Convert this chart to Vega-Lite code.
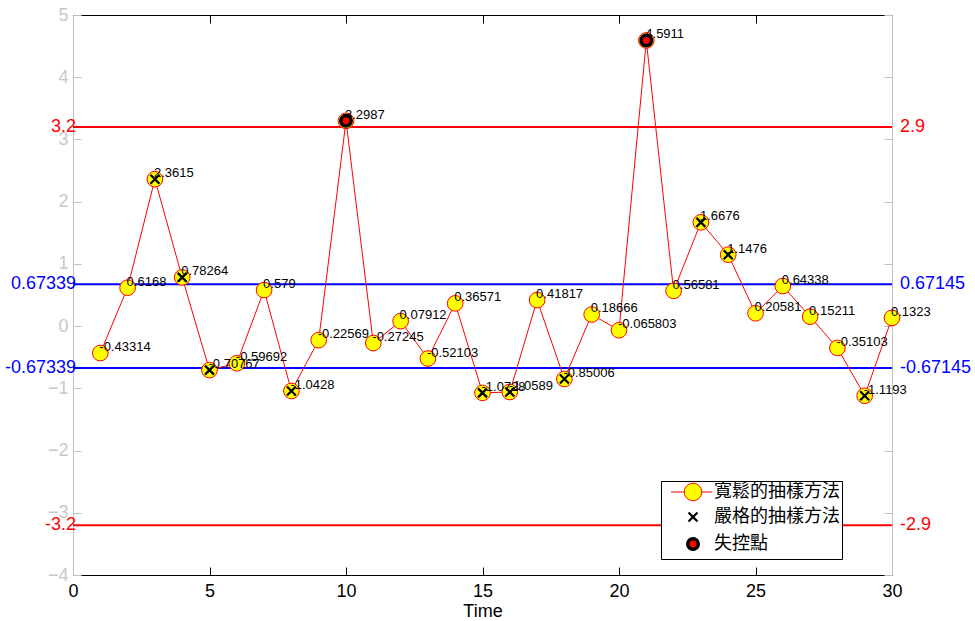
{
  "$schema": "https://vega.github.io/schema/vega-lite/v6.json",
  "width": 819,
  "height": 560,
  "autosize": "none",
  "padding": {"left": 73, "top": 15, "right": 83, "bottom": 46},
  "background": "white",
  "config": {"view": {"stroke": null}, "font": "Liberation Sans"},
  "datasets": {
    "obs": [
      {"t": 1, "v": -0.43314, "strict": false, "ooc": false},
      {"t": 2, "v": 0.6168, "strict": false, "ooc": false},
      {"t": 3, "v": 2.3615, "strict": true, "ooc": false},
      {"t": 4, "v": 0.78264, "strict": true, "ooc": false},
      {"t": 5, "v": -0.70767, "strict": true, "ooc": false},
      {"t": 6, "v": -0.59692, "strict": false, "ooc": false},
      {"t": 7, "v": 0.579, "strict": false, "ooc": false},
      {"t": 8, "v": -1.0428, "strict": true, "ooc": false},
      {"t": 9, "v": -0.22569, "strict": false, "ooc": false},
      {"t": 10, "v": 3.2987, "strict": false, "ooc": true},
      {"t": 11, "v": -0.27245, "strict": false, "ooc": false},
      {"t": 12, "v": 0.07912, "strict": false, "ooc": false},
      {"t": 13, "v": -0.52103, "strict": false, "ooc": false},
      {"t": 14, "v": 0.36571, "strict": false, "ooc": false},
      {"t": 15, "v": -1.0728, "strict": true, "ooc": false},
      {"t": 16, "v": -1.0589, "strict": true, "ooc": false},
      {"t": 17, "v": 0.41817, "strict": false, "ooc": false},
      {"t": 18, "v": -0.85006, "strict": true, "ooc": false},
      {"t": 19, "v": 0.18666, "strict": false, "ooc": false},
      {"t": 20, "v": -0.065803, "strict": false, "ooc": false},
      {"t": 21, "v": 4.5911, "strict": false, "ooc": true},
      {"t": 22, "v": 0.56581, "strict": false, "ooc": false},
      {"t": 23, "v": 1.6676, "strict": true, "ooc": false},
      {"t": 24, "v": 1.1476, "strict": true, "ooc": false},
      {"t": 25, "v": 0.20581, "strict": false, "ooc": false},
      {"t": 26, "v": 0.64338, "strict": false, "ooc": false},
      {"t": 27, "v": 0.15211, "strict": false, "ooc": false},
      {"t": 28, "v": -0.35103, "strict": false, "ooc": false},
      {"t": 29, "v": -1.1193, "strict": true, "ooc": false},
      {"t": 30, "v": 0.1323, "strict": false, "ooc": false}
    ],
    "limits": [
      {"v": 3.2, "left": "3.2", "right": "2.9", "kind": "control"},
      {"v": 0.67339, "left": "0.67339", "right": "0.67145", "kind": "warning"},
      {"v": -0.67339, "left": "-0.67339", "right": "-0.67145", "kind": "warning"},
      {"v": -3.2, "left": "-3.2", "right": "-2.9", "kind": "control"}
    ]
  },
  "resolve": {"axis": {"x": "independent", "y": "independent"}},
  "layer": [
    {
      "data": {"name": "limits"},
      "transform": [{"filter": "datum.kind === 'control'"}],
      "mark": {"type": "rule", "color": "#ff0000", "strokeWidth": 2},
      "encoding": {
        "y": {"field": "v", "type": "quantitative", "scale": {"domain": [-4, 5], "nice": false, "zero": false}, "axis": null}
      }
    },
    {
      "data": {"name": "limits"},
      "transform": [{"filter": "datum.kind === 'warning'"}],
      "mark": {"type": "rule", "color": "#0000ff", "strokeWidth": 2},
      "encoding": {
        "y": {"field": "v", "type": "quantitative", "scale": {"domain": [-4, 5], "nice": false, "zero": false}, "axis": null}
      }
    },
    {
      "data": {"name": "obs"},
      "mark": {"type": "line", "color": "#ff0000", "strokeWidth": 1},
      "encoding": {
        "x": {"field": "t", "type": "quantitative", "scale": {"domain": [0, 30], "nice": false, "zero": false},
          "axis": {"orient": "bottom", "values": [0, 5, 10, 15, 20, 25, 30], "grid": false, "domainColor": "#000000", "tickColor": "#000000", "tickSize": -8, "labelPadding": 15, "labelFontSize": 18, "labelColor": "#000000", "labelFlush": false, "labelOverlap": false, "labelFont": "Liberation Sans", "title": "Time", "titleFont": "Liberation Sans", "titleFontSize": 18, "titleFontWeight": "normal", "titleColor": "#000000", "titlePadding": 2}},
        "y": {"field": "v", "type": "quantitative", "scale": {"domain": [-4, 5], "nice": false, "zero": false},
          "axis": {"orient": "left", "values": [-4, -3, -2, -1, 0, 1, 2, 3, 4, 5], "grid": false, "domainColor": "#c0c0c0", "tickColor": "#c0c0c0", "tickSize": -8, "labelPadding": 13, "labelFontSize": 18, "labelColor": "#c8c8c8", "labelFont": "Liberation Sans", "labelOverlap": false, "labelFlush": false, "title": null}}
      }
    },
    {
      "data": {"name": "obs"},
      "mark": {"type": "point", "shape": "circle", "size": 246, "fill": "#ffff00", "stroke": "#ff0000", "strokeWidth": 1, "filled": true, "opacity": 1},
      "encoding": {
        "x": {"field": "t", "type": "quantitative", "scale": {"domain": [0, 30], "nice": false, "zero": false},
          "axis": {"orient": "top", "values": [0, 5, 10, 15, 20, 25, 30], "grid": false, "labels": false, "domainColor": "#000000", "tickColor": "#000000", "tickSize": -8, "title": null}},
        "y": {"field": "v", "type": "quantitative", "scale": {"domain": [-4, 5], "nice": false, "zero": false},
          "axis": {"orient": "right", "values": [-4, -3, -2, -1, 0, 1, 2, 3, 4, 5], "grid": false, "labels": false, "domainColor": "#c0c0c0", "tickColor": "#c0c0c0", "tickSize": -8, "title": null}}
      }
    },
    {
      "data": {"name": "obs"},
      "mark": {"type": "text", "align": "left", "baseline": "middle", "dx": -1, "dy": -6, "fontSize": 13, "font": "Liberation Sans", "color": "#000000"},
      "encoding": {
        "x": {"field": "t", "type": "quantitative", "scale": {"domain": [0, 30], "nice": false, "zero": false}, "axis": null},
        "y": {"field": "v", "type": "quantitative", "scale": {"domain": [-4, 5], "nice": false, "zero": false}, "axis": null},
        "text": {"field": "v", "type": "nominal"}
      }
    },
    {
      "data": {"name": "obs"},
      "transform": [{"filter": "datum.strict"}],
      "mark": {"type": "point", "filled": true, "opacity": 1},
      "encoding": {
        "x": {"field": "t", "type": "quantitative", "scale": {"domain": [0, 30], "nice": false, "zero": false}, "axis": null},
        "y": {"field": "v", "type": "quantitative", "scale": {"domain": [-4, 5], "nice": false, "zero": false}, "axis": null},
        "fill": {"datum": "嚴格的抽樣方法", "type": "nominal",
          "scale": {"domain": ["寬鬆的抽樣方法", "嚴格的抽樣方法", "失控點"], "range": ["#ffff00", "#000000", "#ff0000"]},
          "legend": {
            "title": null, "orient": "none", "legendX": 588, "legendY": 466,
            "fillColor": "white", "strokeColor": "#000000", "padding": 2,
            "symbolOffset": 21, "labelOffset": 12, "rowPadding": 5,
            "labelFont": "Noto Sans CJK TC", "labelFontSize": 18, "labelColor": "#000000", "labelLimit": 300
          }},
        "shape": {"datum": "嚴格的抽樣方法", "type": "nominal",
          "scale": {"domain": ["寬鬆的抽樣方法", "嚴格的抽樣方法", "失控點"], "range": ["M-6.1,0H-2.43M2.43,0H5.3M-2.43,0A2.43,2.43 0 1,0 2.43,0A2.43,2.43 0 1,0 -2.43,0", "M-1,-1L1,1M-1,1L1,-1", "circle"]}},
        "stroke": {"datum": "嚴格的抽樣方法", "type": "nominal",
          "scale": {"domain": ["寬鬆的抽樣方法", "嚴格的抽樣方法", "失控點"], "range": ["#ff0000", "#000000", "#000000"]}},
        "size": {"datum": "嚴格的抽樣方法", "type": "ordinal",
          "scale": {"domain": ["寬鬆的抽樣方法", "嚴格的抽樣方法", "失控點"], "range": [52, 110]}},
        "strokeWidth": {"datum": "嚴格的抽樣方法", "type": "ordinal",
          "scale": {"domain": ["寬鬆的抽樣方法", "嚴格的抽樣方法", "失控點"], "range": [1, 3.5]}}
      }
    },
    {
      "data": {"name": "obs"},
      "transform": [{"filter": "datum.ooc"}],
      "mark": {"type": "point", "filled": true, "opacity": 1},
      "encoding": {
        "x": {"field": "t", "type": "quantitative", "scale": {"domain": [0, 30], "nice": false, "zero": false}, "axis": null},
        "y": {"field": "v", "type": "quantitative", "scale": {"domain": [-4, 5], "nice": false, "zero": false}, "axis": null},
        "fill": {"datum": "失控點", "type": "nominal"},
        "shape": {"datum": "失控點", "type": "nominal"},
        "stroke": {"datum": "失控點", "type": "nominal"},
        "size": {"datum": "失控點", "type": "ordinal"},
        "strokeWidth": {"datum": "失控點", "type": "ordinal"}
      }
    },
    {
      "data": {"name": "limits"},
      "mark": {"type": "text", "align": "right", "baseline": "middle", "dx": 3, "fontSize": 18, "font": "Liberation Sans"},
      "encoding": {
        "x": {"datum": 0, "type": "quantitative", "scale": {"domain": [0, 30], "nice": false, "zero": false}, "axis": null},
        "y": {"field": "v", "type": "quantitative", "scale": {"domain": [-4, 5], "nice": false, "zero": false}, "axis": null},
        "text": {"field": "left", "type": "nominal"},
        "color": {"field": "kind", "type": "nominal", "scale": {"domain": ["control", "warning"], "range": ["#ff0000", "#0000ff"]}, "legend": null}
      }
    },
    {
      "data": {"name": "limits"},
      "mark": {"type": "text", "align": "left", "baseline": "middle", "dx": 8, "fontSize": 18, "font": "Liberation Sans"},
      "encoding": {
        "x": {"datum": 30, "type": "quantitative", "scale": {"domain": [0, 30], "nice": false, "zero": false}, "axis": null},
        "y": {"field": "v", "type": "quantitative", "scale": {"domain": [-4, 5], "nice": false, "zero": false}, "axis": null},
        "text": {"field": "right", "type": "nominal"},
        "color": {"field": "kind", "type": "nominal", "scale": {"domain": ["control", "warning"], "range": ["#ff0000", "#0000ff"]}, "legend": null}
      }
    }
  ]
}
